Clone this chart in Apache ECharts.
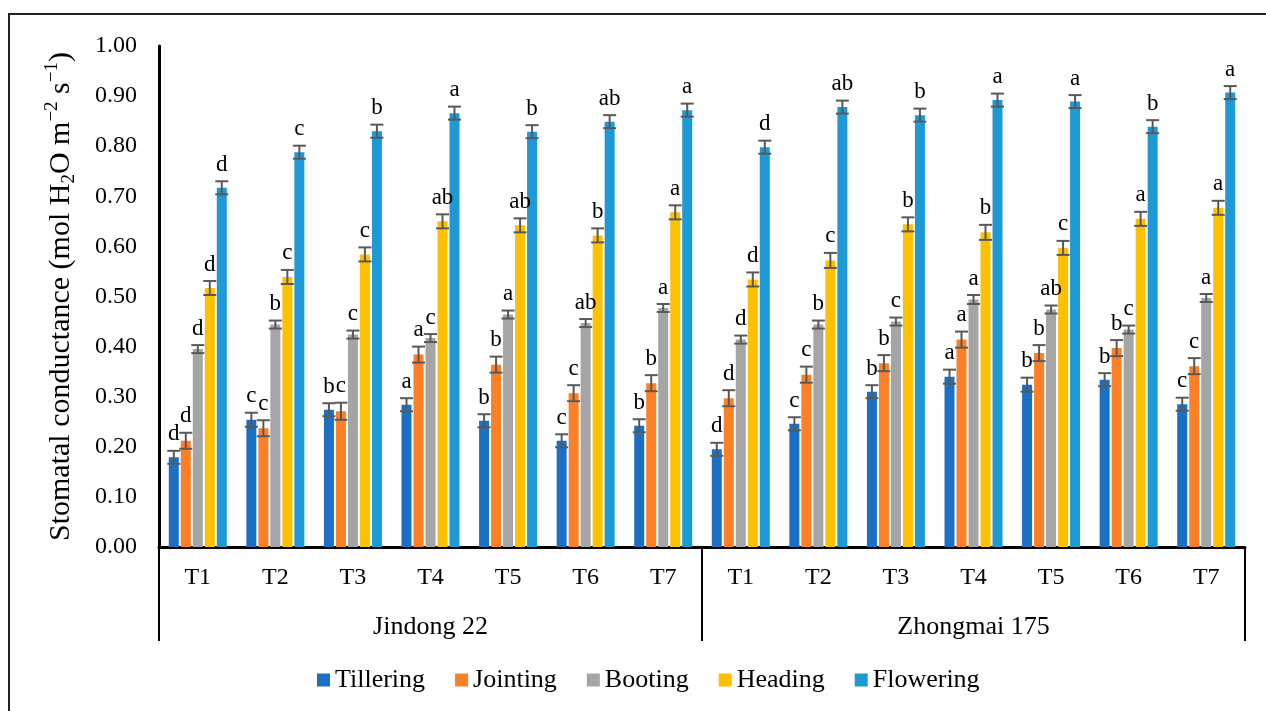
<!DOCTYPE html>
<html>
<head>
<meta charset="utf-8">
<title>Stomatal conductance</title>
<script src="https://cdn.jsdelivr.net/npm/echarts@6/dist/echarts.min.js"></script>
<style>
  html, body { margin: 0; padding: 0; background: #fff; }
  #chart { width: 1266px; height: 711px; }
</style>
</head>
<body>
<div id="chart"></div>
<script>
// Cultivars and treatments (two-level category axis)
const cultivars = ['Jindong 22', 'Zhongmai 175'];
const treatments = ['T1', 'T2', 'T3', 'T4', 'T5', 'T6', 'T7'];
const stages = ['Tillering', 'Jointing', 'Booting', 'Heading', 'Flowering'];
const stageColors = ['#1B70C6', '#FF7F27', '#A5A5A5', '#FFC000', '#1D9AD6'];

// Stomatal conductance means (Jindong 22 T1–T7, then Zhongmai 175 T1–T7)
const tillering = [0.179, 0.254, 0.274, 0.284, 0.252, 0.212, 0.242,
                   0.195, 0.246, 0.310, 0.340, 0.324, 0.334, 0.285];
const jointing  = [0.212, 0.237, 0.271, 0.384, 0.364, 0.307, 0.327,
                   0.297, 0.344, 0.367, 0.414, 0.387, 0.397, 0.361];
const booting   = [0.395, 0.444, 0.424, 0.417, 0.464, 0.447, 0.477,
                   0.414, 0.444, 0.450, 0.494, 0.474, 0.434, 0.497];
const heading   = [0.517, 0.539, 0.584, 0.650, 0.642, 0.622, 0.668,
                   0.534, 0.572, 0.644, 0.628, 0.597, 0.655, 0.677];
const flowering = [0.717, 0.788, 0.830, 0.866, 0.829, 0.849, 0.872,
                   0.798, 0.878, 0.862, 0.892, 0.889, 0.839, 0.907];

// Standard errors
const tilleringErr = [0.013, 0.014, 0.013, 0.013, 0.013, 0.013, 0.013,
                      0.013, 0.013, 0.013, 0.014, 0.014, 0.013, 0.013];
const jointingErr  = [0.016, 0.016, 0.017, 0.016, 0.016, 0.016, 0.016,
                      0.016, 0.016, 0.016, 0.016, 0.016, 0.016, 0.016];
const bootingErr   = [0.008, 0.008, 0.008, 0.008, 0.008, 0.008, 0.008,
                      0.008, 0.008, 0.008, 0.009, 0.008, 0.008, 0.008];
const headingErr   = [0.014, 0.014, 0.014, 0.014, 0.014, 0.014, 0.014,
                      0.014, 0.015, 0.014, 0.015, 0.014, 0.014, 0.014];
const floweringErr = [0.013, 0.013, 0.013, 0.013, 0.013, 0.013, 0.013,
                      0.013, 0.013, 0.013, 0.013, 0.013, 0.013, 0.013];

// Significance letters
const tilleringSig = ['d', 'c', 'b', 'a', 'b', 'c', 'b',  'd', 'c', 'b', 'a', 'b', 'b', 'c'];
const jointingSig  = ['d', 'c', 'c', 'a', 'b', 'c', 'b',  'd', 'c', 'b', 'a', 'b', 'b', 'c'];
const bootingSig   = ['d', 'b', 'c', 'c', 'a', 'ab', 'a', 'd', 'b', 'c', 'a', 'ab', 'c', 'a'];
const headingSig   = ['d', 'c', 'c', 'ab', 'ab', 'b', 'a', 'd', 'c', 'b', 'b', 'c', 'a', 'a'];
const floweringSig = ['d', 'c', 'b', 'a', 'b', 'ab', 'a', 'd', 'ab', 'b', 'a', 'a', 'b', 'a'];

const yTicks = { min: 0, max: 1, interval: 0.1 };

const means = [tillering, jointing, booting, heading, flowering];
const errs = [tilleringErr, jointingErr, bootingErr, headingErr, floweringErr];
const sigs = [tilleringSig, jointingSig, bootingSig, headingSig, floweringSig];

// One category per cultivar/treatment pair; label shows the treatment only
const categories = [];
cultivars.forEach(c => treatments.forEach(t => categories.push(c + '|' + t)));

const FONT = '"Liberation Serif", "Times New Roman", serif';
const BAR_W = 10;
const BAR_STEP = 12; // bar width + gap

const barSeries = stages.map((name, s) => ({
  name: name,
  type: 'bar',
  xAxisIndex: 0,
  barWidth: BAR_W,
  barGap: '20%',
  itemStyle: { color: stageColors[s] },
  data: means[s],
  z: 2
}));

// Error bars and significance letters, placed over the matching bar
const errSeries = stages.map((name, s) => ({
  type: 'custom',
  xAxisIndex: 0,
  z: 5,
  silent: true,
  data: means[s].map((v, i) => [i, v, errs[s][i]]),
  renderItem: function (params, api) {
    const i = api.value(0);
    const v = api.value(1);
    const e = api.value(2);
    const off = (s - 2) * BAR_STEP;
    const hi = api.coord([i, v + e]);
    const lo = api.coord([i, v - e]);
    const x = hi[0] + off;
    const cap = 6.5;
    const ls = { stroke: '#595959', lineWidth: 2 };
    return {
      type: 'group',
      children: [
        { type: 'line', shape: { x1: x, y1: hi[1], x2: x, y2: lo[1] }, style: ls },
        { type: 'line', shape: { x1: x - cap, y1: hi[1], x2: x + cap, y2: hi[1] }, style: ls },
        { type: 'line', shape: { x1: x - cap, y1: lo[1], x2: x + cap, y2: lo[1] }, style: ls },
        {
          type: 'text',
          style: {
            text: sigs[s][params.dataIndex],
            x: x,
            y: hi[1] - 5,
            align: 'center',
            verticalAlign: 'bottom',
            font: '23px ' + FONT,
            fill: '#000'
          }
        }
      ]
    };
  }
}));

const chart = echarts.init(document.getElementById('chart'), null, { renderer: 'canvas' });

chart.setOption({
  backgroundColor: '#fff',
  animation: false,
  textStyle: { fontFamily: FONT },
  graphic: [{
    type: 'rect',
    shape: { x: 9, y: 14, width: 1280, height: 720 },
    style: { fill: 'none', stroke: '#222', lineWidth: 2 },
    silent: true,
    z: -10
  }],
  legend: {
    data: stages,
    left: 317,
    top: 667,
    padding: 0,
    itemWidth: 13,
    itemHeight: 13,
    itemGap: 30,
    icon: 'rect',
    textStyle: { fontFamily: FONT, fontSize: 26, color: '#000' }
  },
  grid: { left: 159, right: 21, top: 46, bottom: 164, containLabel: false },
  xAxis: [{
    type: 'category',
    data: categories,
    position: 'bottom',
    axisLine: { show: true, lineStyle: { color: '#000', width: 3 } },
    axisTick: { show: false },
    axisLabel: {
      interval: 0,
      margin: 19,
      fontFamily: FONT,
      fontSize: 24,
      color: '#000',
      formatter: v => v.split('|')[1]
    }
  }, {
    type: 'category',
    data: cultivars,
    position: 'bottom',
    axisLine: { show: false },
    axisTick: { show: true, length: 94, lineStyle: { color: '#000', width: 2 } },
    axisLabel: {
      interval: 0,
      margin: 67,
      fontFamily: FONT,
      fontSize: 26,
      color: '#000'
    }
  }],
  yAxis: {
    type: 'value',
    min: yTicks.min,
    max: yTicks.max,
    interval: yTicks.interval,
    axisLine: { show: true, lineStyle: { color: '#000', width: 3 } },
    axisTick: { show: false },
    splitLine: { show: false },
    axisLabel: {
      margin: 22,
      fontFamily: FONT,
      fontSize: 24,
      color: '#000',
      formatter: v => v.toFixed(2)
    },
    name: '{n|Stomatal conductance (mol H}{sub|2}{n|O m}{sup|−2}{n| s}{sup|−1}{n|)}',
    nameLocation: 'middle',
    nameRotate: 90,
    nameGap: 80,
    nameTextStyle: {
      rich: {
        n: { fontFamily: FONT, fontSize: 30, color: '#000', lineHeight: 36 },
        sub: { fontFamily: FONT, fontSize: 19, color: '#000', lineHeight: 19, verticalAlign: 'bottom' },
        sup: { fontFamily: FONT, fontSize: 19, color: '#000', lineHeight: 19, verticalAlign: 'top' }
      }
    }
  },
  series: barSeries.concat(errSeries)
});
</script>
</body>
</html>
